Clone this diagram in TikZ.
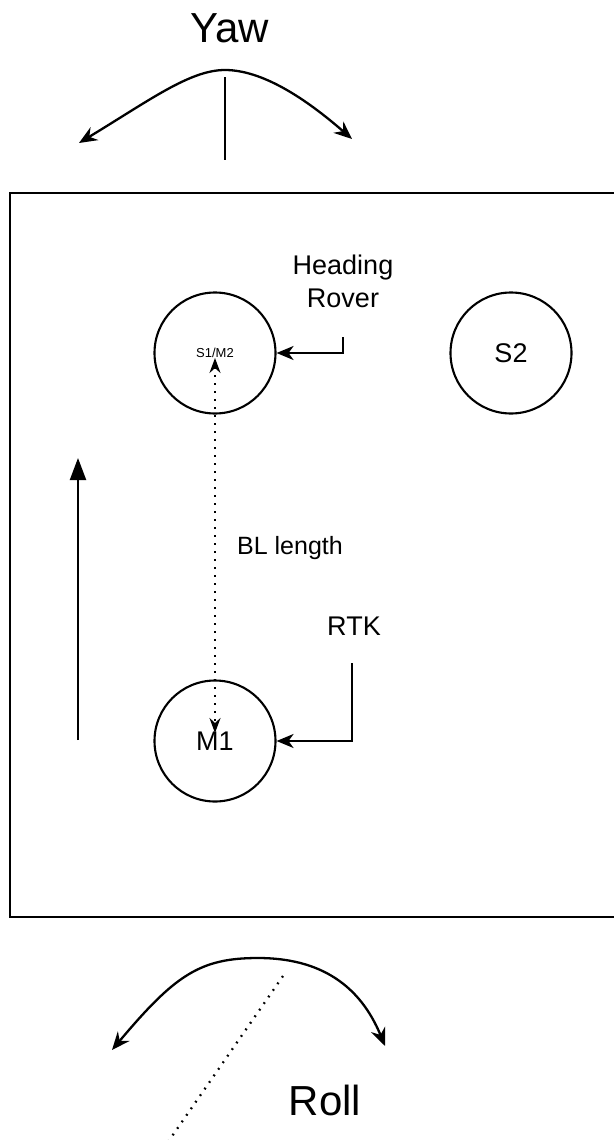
\documentclass[tikz,border=0pt]{standalone}
\usepackage{fontspec}
\setmainfont{Liberation Sans}
\usetikzlibrary{arrows.meta,positioning}
\tikzset{
  body/.style    ={draw,line width=2.3pt},
  antenna/.style ={circle,draw,line width=2.1pt,minimum size=121pt,inner sep=0pt,
                   font=\fontsize{27}{30}\selectfont},
  lbl/.style     ={align=center,font=\fontsize{27}{33}\selectfont},
  axislbl/.style ={font=\fontsize{42}{46}\selectfont},
  feed/.style    ={line width=2.1pt,-{Stealth[length=17pt,width=14pt,inset=5pt]}},
  swing/.style   ={line width=2.3pt,{Stealth[length=18pt,width=15pt,inset=6pt]}-{Stealth[length=18pt,width=15pt,inset=6pt]}}
}

\begin{document}
\begin{tikzpicture}[x=1pt,y=-1pt,
  dots/.style={line width=2.3pt,dash pattern=on 1.8pt off 6.2pt}
]
  \useasboundingbox (0,0) rectangle (613,1140);

  % Yaw
  \node (yaw) at (230,28) [axislbl] {Yaw};
  \coordinate (yawL) at (79,143);
  \coordinate (yawR) at (352,139);
  \draw[swing] (yawL) .. controls (150,100) and (190,70) .. (225,70)
                      .. controls (262,70) and (305,98) .. (yawR);
  \draw[line width=2.3pt] (225,77) -- (225,160);

  % Boundary
  \draw[body] (616,193) -- (10,193) -- (10,917) -- (616,917);

  % Antennas
  \node (s1m2) at (215,353) [antenna] {};
  \node at (215,353) [font=\fontsize{13}{15}\selectfont] {S1/M2};
  \node (s2)   at (511,353) [antenna] {S2};
  \node (m1)   at (215,741) [antenna] {M1};

  % Heading rover
  \node (hr) at (343,281) [lbl] {Heading\\Rover};
  \coordinate (hrT) at (343,337);
  \draw[feed] (hrT) |- (s1m2.east);

  % RTK
  \node (rtk) at (354,626) [lbl] {RTK};
  \coordinate (rtkT) at (352,663);
  \draw[feed] (rtkT) |- (m1.east);

  % Baseline
  \node (bl) at (290,548) [lbl,font=\fontsize{25}{28}\selectfont] {BL length};
  \draw[dots,{Stealth[length=15pt,width=11pt,inset=5pt]}-{Stealth[length=15pt,width=11pt,inset=5pt]},
        shorten <=5pt,shorten >=8pt] (s1m2.center) -- (m1.center);

  % Direction of travel
  \coordinate (dirS) at (78,740);
  \coordinate (dirE) at (78,458);
  \draw[line width=2.1pt,-{Triangle[length=22pt,width=16pt]}] (dirS) -- (dirE);

  % Roll
  \coordinate (rollL) at (112,1050);
  \coordinate (rollR) at (385,1046);
  \draw[swing] (rollL) .. controls (175,975) and (200,958) .. (258,958)
                       .. controls (320,958) and (360,985) .. (rollR);
  \coordinate (rollA) at (283,976);
  \coordinate (rollB) at (168,1142);
  \draw[dots] (rollA) -- (rollB);
  \node (roll) at (325,1100) [axislbl] {Roll};
\end{tikzpicture}
\end{document}
